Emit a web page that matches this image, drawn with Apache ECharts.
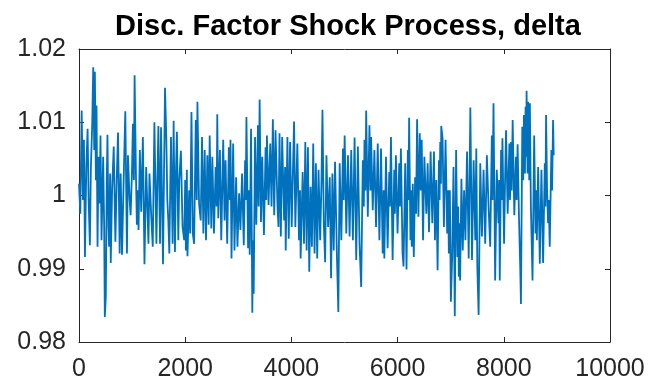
<!DOCTYPE html>
<html>
<head>
<meta charset="utf-8">
<script src="https://cdn.jsdelivr.net/npm/echarts@6/dist/echarts.min.js"></script>
<style>
  html, body { margin: 0; padding: 0; background: #fff; }
  #chart { width: 651px; height: 388px; }
</style>
</head>
<body>
<div id="chart"></div>
<script>
// values (period index, delta)
const xTicks = [0, 2000, 4000, 6000, 8000, 10000]
const yTicks = [0.98, 0.99, 1, 1.01, 1.02]

const periods = [
  0, 25, 50, 75, 93, 112, 137, 162, 181, 205, 224, 249, 268, 287, 299, 318, 330, 349, 368, 386,
  405, 424, 455, 474, 486, 505, 523, 536, 555, 567, 586, 598, 623, 654, 685, 710, 735, 766, 785, 810,
  841, 872, 903, 922, 953, 972, 997, 1015, 1034, 1047, 1072, 1090, 1109, 1121, 1146, 1171, 1203, 1233, 1265, 1308,
  1327, 1345, 1364, 1389, 1420, 1458, 1476, 1495, 1526, 1545, 1582, 1601, 1620, 1645, 1663, 1682, 1701, 1732, 1763, 1782,
  1807, 1825, 1844, 1870, 1888, 1919, 1950, 1981, 2000, 2013, 2031, 2043, 2075, 2093, 2118, 2143, 2168, 2199, 2218, 2230,
  2261, 2292, 2317, 2342, 2367, 2392, 2417, 2442, 2461, 2492, 2511, 2542, 2573, 2592, 2604, 2623, 2654, 2679, 2716, 2741,
  2760, 2791, 2822, 2841, 2853, 2872, 2903, 2928, 2959, 2984, 3015, 3040, 3071, 3103, 3128, 3140, 3153, 3184, 3202, 3215,
  3240, 3264, 3277, 3290, 3315, 3339, 3370, 3383, 3402, 3427, 3451, 3483, 3514, 3526, 3539, 3570, 3601, 3626, 3651, 3676,
  3701, 3738, 3757, 3776, 3801, 3826, 3863, 3881, 3893, 3925, 3950, 3975, 4006, 4025, 4050, 4074, 4112, 4143, 4162, 4174,
  4212, 4237, 4262, 4287, 4311, 4336, 4361, 4386, 4411, 4436, 4461, 4486, 4511, 4542, 4567, 4585, 4610, 4635, 4660, 4691,
  4722, 4747, 4772, 4797, 4822, 4859, 4884, 4909, 4940, 4971, 4984, 5003, 5034, 5065, 5096, 5127, 5158, 5190, 5221, 5252,
  5283, 5314, 5345, 5364, 5376, 5395, 5408, 5439, 5470, 5489, 5501, 5532, 5563, 5594, 5626, 5657, 5688, 5719, 5738, 5750,
  5781, 5812, 5843, 5856, 5875, 5906, 5937, 5949, 5968, 5999, 6031, 6043, 6062, 6093, 6112, 6143, 6168, 6193, 6205, 6217,
  6242, 6255, 6267, 6286, 6305, 6330, 6348, 6367, 6392, 6417, 6436, 6454, 6479, 6504, 6541, 6566, 6591, 6622, 6653, 6685,
  6703, 6728, 6753, 6778, 6791, 6803, 6816, 6822, 6847, 6872, 6903, 6934, 6952, 6965, 6984, 7003, 7028, 7053, 7077, 7102,
  7127, 7140, 7152, 7165, 7177, 7202, 7227, 7252, 7277, 7308, 7339, 7370, 7401, 7432, 7463, 7482, 7501, 7526, 7557, 7588,
  7619, 7650, 7681, 7713, 7744, 7775, 7787, 7806, 7825, 7837, 7868, 7899, 7912, 7924, 7949, 7962, 7974, 8005, 8024, 8042,
  8073, 8105, 8117, 8136, 8148, 8167, 8198, 8229, 8242, 8260, 8285, 8310, 8323, 8348, 8366, 8379, 8398, 8410, 8423, 8429,
  8448, 8460, 8479, 8491, 8510, 8541, 8572, 8597, 8610, 8622, 8647, 8678, 8709, 8740, 8772, 8784, 8796, 8815, 8834, 8846,
  8865, 8896, 8909, 8928, 8940
]

const delta = [
  1.0016, 0.9975, 1.0116, 0.9994, 1.0076, 0.9916, 1.0039, 1.0091, 0.9994, 0.9932, 1.0039, 1.0098, 1.0175, 1.0062, 1.0169, 1.0021, 1.0123, 0.9930, 1.0053, 0.9989,
  1.0082, 0.9939, 1.0053, 0.9957, 0.9834, 0.9862, 1.0021, 1.0083, 0.9957, 0.9930, 1.0030, 0.9908, 1.0007, 1.0067, 0.9937, 1.0021, 1.0086, 0.9921, 1.0030, 0.9919,
  1.0021, 1.0115, 0.9921, 1.0055, 0.9994, 0.9973, 1.0030, 1.0098, 1.0021, 1.0164, 1.0030, 0.9960, 1.0007, 0.9953, 1.0062, 0.9978, 1.0080, 0.9906, 1.0039, 0.9934,
  1.0030, 1.0032, 0.9966, 0.9930, 1.0100, 0.9934, 1.0021, 1.0095, 0.9934, 1.0093, 0.9906, 1.0030, 1.0147, 1.0076, 0.9994, 0.9966, 0.9921, 1.0080, 0.9934, 1.0102,
  0.9923, 1.0030, 1.0087, 0.9939, 1.0020, 1.0061, 0.9957, 0.9939, 1.0021, 0.9925, 1.0035, 0.9917, 1.0007, 0.9948, 1.0114, 0.9948, 0.9934, 1.0103, 0.9994, 1.0128,
  0.9989, 0.9966, 1.0080, 0.9948, 1.0062, 0.9939, 1.0055, 0.9960, 1.0082, 0.9955, 1.0053, 0.9948, 1.0039, 0.9985, 1.0111, 0.9969, 1.0062, 0.9939, 1.0076, 0.9966,
  1.0048, 0.9934, 1.0066, 0.9994, 1.0076, 0.9914, 1.0071, 0.9925, 1.0025, 0.9930, 1.0003, 0.9953, 1.0030, 0.9932, 1.0048, 0.9994, 1.0107, 0.9928, 1.0007, 0.9919,
  1.0091, 0.9840, 0.9939, 0.9866, 1.0080, 0.9960, 1.0096, 0.9985, 1.0131, 0.9964, 1.0053, 0.9946, 1.0066, 0.9994, 1.0082, 0.9987, 1.0071, 0.9985, 1.0104, 0.9973,
  1.0089, 0.9985, 0.9957, 1.0085, 0.9944, 1.0080, 0.9966, 1.0039, 0.9925, 1.0080, 0.9941, 1.0073, 0.9957, 1.0021, 1.0101, 0.9957, 1.0071, 0.9939, 1.0007, 0.9914,
  1.0032, 0.9934, 1.0073, 0.9925, 1.0066, 0.9896, 1.0012, 0.9930, 1.0071, 0.9921, 1.0044, 0.9914, 1.0035, 0.9939, 1.0021, 1.0117, 0.9962, 0.9909, 1.0055, 0.9957,
  1.0025, 0.9887, 1.0030, 0.9925, 1.0046, 0.9912, 0.9841, 1.0044, 0.9939, 1.0064, 0.9994, 1.0082, 0.9948, 1.0055, 0.9944, 1.0062, 0.9939, 1.0079, 0.9912, 1.0067,
  0.9934, 0.9875, 1.0048, 0.9985, 1.0076, 1.0007, 1.0116, 0.9971, 1.0096, 1.0007, 1.0080, 0.9980, 1.0062, 0.9957, 1.0071, 0.9939, 1.0064, 0.9921, 1.0007, 0.9914,
  1.0053, 0.9928, 1.0032, 0.9985, 1.0080, 0.9912, 1.0035, 0.9975, 1.0055, 0.9948, 1.0044, 0.9985, 1.0064, 0.9921, 0.9903, 1.0044, 0.9899, 1.0062, 0.9994, 1.0106,
  0.9939, 1.0007, 0.9930, 1.0016, 0.9916, 1.0025, 0.9975, 1.0104, 0.9971, 1.0085, 1.0007, 1.0076, 0.9939, 1.0053, 0.9975, 1.0044, 0.9950, 1.0060, 0.9962, 1.0060,
  0.9939, 1.0021, 0.9898, 1.0048, 0.9994, 1.0073, 1.0016, 1.0095, 1.0078, 0.9957, 1.0076, 0.9948, 1.0007, 0.9921, 1.0007, 0.9855, 0.9916, 1.0039, 0.9835, 1.0062,
  0.9916, 0.9985, 0.9889, 0.9962, 0.9884, 1.0023, 0.9925, 1.0007, 0.9939, 1.0060, 0.9914, 1.0120, 0.9912, 1.0048, 0.9939, 1.0064, 0.9903, 0.9837, 1.0044, 0.9944,
  1.0035, 0.9934, 1.0055, 0.9985, 0.9930, 1.0082, 0.9994, 1.0126, 0.9985, 0.9884, 1.0035, 0.9962, 1.0021, 0.9884, 1.0062, 0.9994, 1.0078, 0.9934, 1.0021, 1.0089,
  0.9975, 1.0071, 0.9994, 1.0073, 1.0007, 1.0103, 0.9973, 1.0053, 0.9994, 1.0070, 0.9973, 0.9900, 0.9852, 1.0094, 1.0021, 1.0110, 1.0030, 1.0121, 1.0053, 1.0143,
  1.0030, 1.0128, 1.0021, 1.0126, 0.9985, 0.9884, 1.0082, 0.9948, 1.0007, 0.9939, 1.0039, 0.9907, 1.0035, 0.9908, 1.0044, 0.9985, 1.0110, 1.0007, 0.9962, 0.9994,
  0.9930, 1.0062, 1.0007, 1.0103, 1.0055
]

const lineColor = '#0072BD'
const axisColor = '#262626'
const fontFamily = '"Liberation Sans", Arial, Helvetica, sans-serif'

const points = periods.map((p, i) => [p, delta[i]])

const chart = echarts.init(document.getElementById('chart'), null, { renderer: 'canvas' })

// matlab style box: ticks on every side, pointing in
function boxAxis (extra) {
  return Object.assign({
    type: 'value',
    axisLine: { show: true, onZero: false, lineStyle: { color: axisColor, width: 1 } },
    axisTick: { show: true, inside: true, length: 5, lineStyle: { color: axisColor } },
    splitLine: { show: false }
  }, extra)
}

chart.setOption({
  animation: false,
  title: {
    text: 'Disc. Factor Shock Process, delta',
    left: 343,
    top: 7,
    textAlign: 'center',
    textStyle: { fontFamily: fontFamily, fontWeight: 'bold', fontSize: 29, color: '#000' }
  },
  grid: { left: 79, right: 41, top: 49, bottom: 46 },
  xAxis: [
    boxAxis({
      min: xTicks[0],
      max: xTicks[xTicks.length - 1],
      interval: 2000,
      axisLabel: { color: axisColor, fontFamily: fontFamily, fontSize: 25, margin: 15, formatter: v => String(v) }
    }),
    boxAxis({
      position: 'top',
      min: xTicks[0],
      max: xTicks[xTicks.length - 1],
      interval: 2000,
      axisLabel: { show: false }
    })
  ],
  yAxis: [
    boxAxis({
      min: yTicks[0],
      max: yTicks[yTicks.length - 1],
      interval: 0.01,
      axisLabel: {
        color: axisColor,
        fontFamily: fontFamily,
        fontSize: 25,
        margin: 13,
        formatter: v => String(+v.toFixed(2))
      }
    }),
    boxAxis({
      position: 'right',
      min: yTicks[0],
      max: yTicks[yTicks.length - 1],
      interval: 0.01,
      axisLabel: { show: false }
    })
  ],
  series: [
    {
      type: 'line',
      data: points,
      showSymbol: false,
      lineStyle: { color: lineColor, width: 1.8 },
      emphasis: { disabled: true }
    }
  ]
})
</script>
</body>
</html>
